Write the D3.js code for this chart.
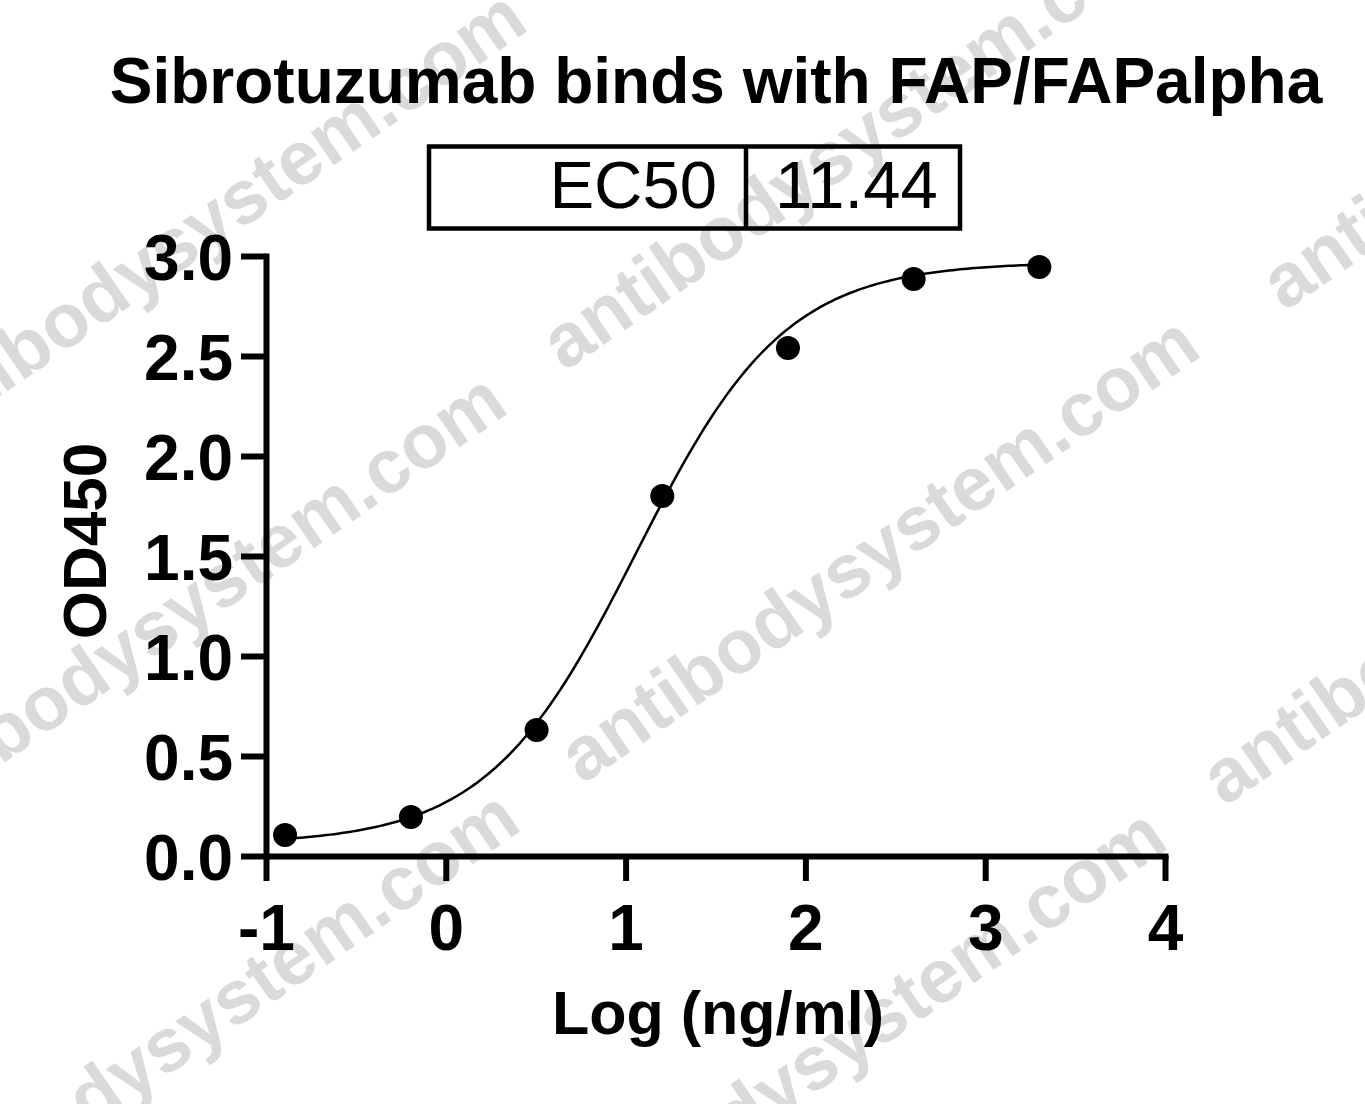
<!DOCTYPE html>
<html>
<head>
<meta charset="utf-8">
<script src="https://cdn.jsdelivr.net/npm/d3@7"></script>
<style>
  html, body { margin: 0; padding: 0; background: #fff; }
  svg { display: block; }
  text { font-family: "Liberation Sans", Arial, Helvetica, sans-serif; }
</style>
</head>
<body>
<svg id="chart" width="1365" height="1104"></svg>
<script>
// ---- data ----
const titleText = "Sibrotuzumab binds with FAP/FAPalpha";
const xLabel = "Log (ng/ml)";
const yLabel = "OD450";
const ec50Label = "EC50";
const ec50Value = "11.44";
const logConc = [-0.894, -0.194, 0.505, 1.204, 1.903, 2.602, 3.301];
const od450 = [0.105, 0.195, 0.63, 1.80, 2.54, 2.885, 2.945];
const xTicks = [-1, 0, 1, 2, 3, 4];
const yTicks = [0, 0.5, 1.0, 1.5, 2.0, 2.5, 3.0];
// 4-parameter logistic fit parameters: bottom, top, logEC50, hill slope
const fitBottom = 0.06;
const fitTop = 2.97;
const fitLogEC50 = Math.log10(11.44);
const fitHill = 1.05;
const watermarkText = "antibodysystem.com";

// ---- layout ----
const svg = d3.select("#chart");
svg.append("rect").attr("width", 1365).attr("height", 1104).attr("fill", "#fff");

const x = d3.scaleLinear().domain([-1, 4]).range([266, 1165]);
const y = d3.scaleLinear().domain([0, 3]).range([856, 256]);

// watermarks (behind)
const wmPos = [[205,222],[860,135],[1580,75],[185,605],[878,548],[1520,570],[198,1022],[845,1040]];
svg.append("g").selectAll("text").data(wmPos).join("text")
  .attr("transform", d => `translate(${d[0]},${d[1]}) rotate(-34.7)`)
  .attr("text-anchor", "middle").attr("dy", "0.35em")
  .attr("font-size", 76).attr("font-weight", "bold")
  .attr("fill", "#dadada")
  .text(watermarkText);

// title
svg.append("text").attr("x", 716).attr("y", 103)
  .attr("text-anchor", "middle").attr("font-size", 64).attr("font-weight", "bold")
  .attr("fill", "#000").text(titleText);

// EC50 table
const tbl = svg.append("g");
tbl.append("rect").attr("x", 429).attr("y", 146.5).attr("width", 531).attr("height", 82)
  .attr("fill", "none").attr("stroke", "#000").attr("stroke-width", 4.5);
tbl.append("line").attr("x1", 746).attr("x2", 746).attr("y1", 146.5).attr("y2", 228.5)
  .attr("stroke", "#000").attr("stroke-width", 4.5);
tbl.append("text").attr("x", 717).attr("y", 208)
  .attr("text-anchor", "end").attr("font-size", 67).attr("fill", "#000").text(ec50Label);
tbl.append("text").attr("x", 775).attr("y", 208)
  .attr("text-anchor", "start").attr("font-size", 67).attr("fill", "#000").text(ec50Value);

// axes
const xAxis = d3.axisBottom(x).tickValues(xTicks).tickFormat(d => String(d))
  .tickSize(25).tickSizeOuter(0).tickPadding(24);
const yAxis = d3.axisLeft(y).tickValues(yTicks).tickFormat(d3.format(".1f"))
  .tickSize(25).tickSizeOuter(0).tickPadding(8);

const gx = svg.append("g").attr("transform", "translate(0,856)").call(xAxis);
const gy = svg.append("g").attr("transform", "translate(266,0)").call(yAxis);
[gx, gy].forEach(g => {
  g.select(".domain").attr("stroke", "#000").attr("stroke-width", 6).attr("stroke-linecap", "square");
  g.selectAll(".tick line").attr("stroke", "#000").attr("stroke-width", 6);
  g.selectAll(".tick text").attr("fill", "#000").attr("font-size", 64).attr("font-weight", "bold")
    .attr("font-family", "'Liberation Sans', Arial, Helvetica, sans-serif");
});
gy.selectAll(".tick text").attr("dy", "0.36em");

// axis titles
svg.append("text").attr("x", 718).attr("y", 1034).attr("text-anchor", "middle")
  .attr("font-size", 61).attr("font-weight", "bold").attr("fill", "#000").text(xLabel);
svg.append("text").attr("transform", "translate(106,541) rotate(-90)").attr("text-anchor", "middle")
  .attr("font-size", 62).attr("font-weight", "bold").attr("fill", "#000").text(yLabel);

// fitted curve
const fit = v => fitBottom + (fitTop - fitBottom) / (1 + Math.pow(10, (fitLogEC50 - v) * fitHill));
const xs = d3.range(0, 201).map(i => logConc[0] + (logConc[logConc.length - 1] - logConc[0]) * i / 200);
svg.append("path").datum(xs)
  .attr("d", d3.line().x(d => x(d)).y(d => y(fit(d))))
  .attr("fill", "none").attr("stroke", "#000").attr("stroke-width", 2.5);

// points
svg.append("g").selectAll("circle").data(logConc).join("circle")
  .attr("cx", d => x(d)).attr("cy", (d, i) => y(od450[i])).attr("r", 12).attr("fill", "#000");
</script>
</body>
</html>
